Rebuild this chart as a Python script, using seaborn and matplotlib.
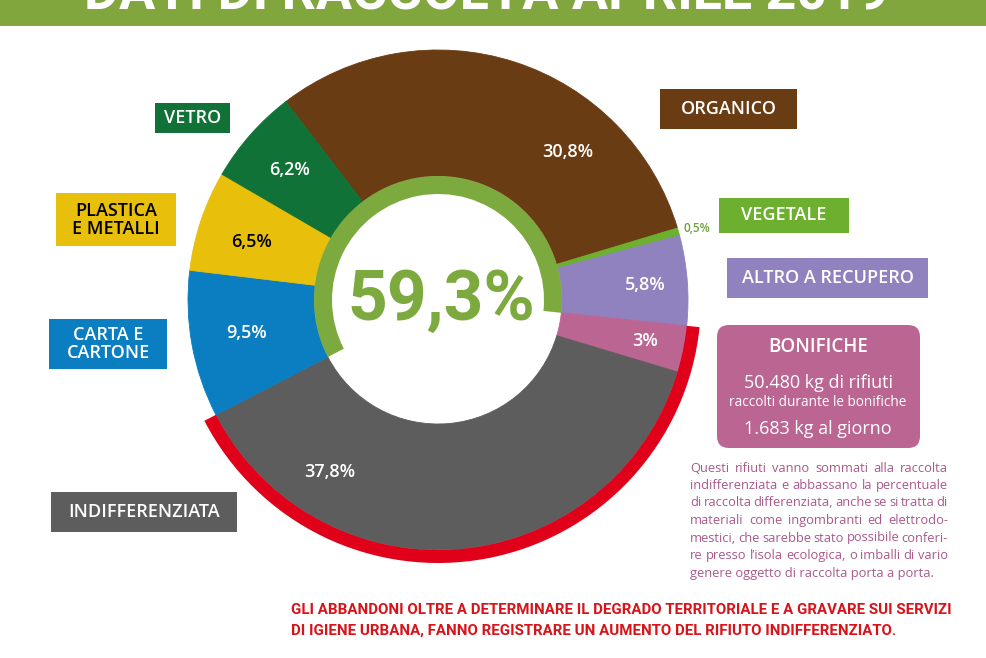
import matplotlib
matplotlib.use("Agg")
import matplotlib.pyplot as plt
from matplotlib.patches import Rectangle, FancyBboxPatch
import seaborn as sns

# ---------------- data ----------------
categories = ["ORGANICO", "VEGETALE", "ALTRO A RECUPERO", "BONIFICHE",
              "INDIFFERENZIATA", "CARTA E\nCARTONE", "PLASTICA\nE METALLI", "VETRO"]
values = [30.8, 0.5, 5.8, 3.0, 37.8, 9.5, 6.5, 6.2]
value_labels = ["30,8%", "0,5%", "5,8%", "3%", "37,8%", "9,5%", "6,5%", "6,2%"]
is_differenziata = [True, True, True, False, False, True, True, True]
center_label = "59,3%"
title = "DATI DI RACCOLTA APRILE 2019"
bonifiche_lines = ["BONIFICHE", "50.480 kg di rifiuti",
                   "raccolti durante le bonifiche", "1.683 kg al giorno"]
note_lines = [
    "Questi rifiuti vanno sommati alla raccolta",
    "indifferenziata e abbassano la percentuale",
    "di raccolta differenziata, anche se si tratta di",
    "materiali come ingombranti ed elettrodo-",
    "mestici, che sarebbe stato possibile conferi-",
    "re presso l\u2019isola ecologica, o imballi di vario",
    "genere oggetto di raccolta porta a porta.",
]
footer_lines = [
    "GLI ABBANDONI OLTRE A DETERMINARE IL DEGRADO TERRITORIALE E A GRAVARE SUI SERVIZI",
    "DI IGIENE URBANA, FANNO REGISTRARE UN AUMENTO DEL RIFIUTO INDIFFERENZIATO.",
]

# ---------------- style ----------------
sns.set_theme(style="white")
plt.rcParams["font.family"] = ["Open Sans", "DejaVu Sans"]
CONDENSED = ["Roboto", "DejaVu Sans"]

slice_colors = sns.color_palette(["#6A3C13", "#6DB02F", "#8F82BE", "#BB6592",
                                  "#5E5D5D", "#0B7EC2", "#E8BF0B", "#107236"])
label_text_colors = ["white", "#6DA13A", "white", "white", "white", "white", "black", "white"]
box_text_colors = ["white", "white", "white", "white", "white", "white", "black", "white"]
RED = "#E1001A"
RING_GREEN = "#7DAA3F"
TITLE_GREEN = "#82A63E"
NOTE_COLOR = "#A9598C"
FOOTER_RED = "#D7141A"

W, H = 986, 658


def Y(py):
    return H - py


# layout (pixel coordinates, top-left origin)
CX, CY = 438, 300
R_OUT, R_IN = 250, 124
RING_IN = 106
RED_OUT, RED_W = 263, 13
START = 127.5

label_pos = [(568, 152), (697, 229), (645, 285), (645, 341),
             (330, 472), (247, 333), (252, 242), (290, 170)]
label_size = [13, 8.5, 13, 13, 13, 13, 13, 13]
box_rect = {  # x0, y0, x1, y1
    "ORGANICO": (660, 89, 797, 129),
    "VEGETALE": (719, 198, 849, 233),
    "ALTRO A RECUPERO": (727, 258, 928, 298),
    "INDIFFERENZIATA": (51, 492, 237, 532),
    "CARTA E\nCARTONE": (49, 319, 167, 369),
    "PLASTICA\nE METALLI": (56, 193, 176, 246),
    "VETRO": (155, 103, 230, 133),
}

fig = plt.figure(figsize=(W / 100, H / 100), dpi=100)
ax = fig.add_axes([0, 0, 1, 1])
renderer = fig.canvas.get_renderer()


def fit_width(t, target):
    """scale a text's font size so that its rendered width equals target px"""
    wdt = t.get_window_extent(renderer).width
    t.set_fontsize(t.get_fontsize() * target / wdt)


# main donut
wedges, _ = ax.pie(values, colors=slice_colors, startangle=START, counterclock=False,
                   radius=R_OUT, center=(CX, Y(CY)),
                   wedgeprops=dict(width=R_OUT - R_IN), frame=True)
for w in wedges:
    w.set_edgecolor(w.get_facecolor())
    w.set_linewidth(0.6)

# outer red arc (non differentiated) and inner green arc (differentiated)
total = sum(values)
first_nd = is_differenziata.index(False)
ring_start = START - 360 * sum(values[:first_nd]) / total
undiff_total = sum(v for v, d in zip(values, is_differenziata) if not d)
diff_total = sum(v for v, d in zip(values, is_differenziata) if d)
ax.pie([undiff_total, diff_total], colors=[RED, "none"], startangle=ring_start,
       counterclock=False, radius=RED_OUT, center=(CX, Y(CY)),
       wedgeprops=dict(width=RED_W, linewidth=0), frame=True)
ax.pie([undiff_total, diff_total], colors=["none", RING_GREEN], startangle=ring_start,
       counterclock=False, radius=R_IN, center=(CX, Y(CY)),
       wedgeprops=dict(width=R_IN - RING_IN, linewidth=0), frame=True)

ax.set_xlim(0, W)
ax.set_ylim(0, H)
ax.set_aspect("equal")
ax.set_axis_off()

# title band (the title runs off the top edge, as in the reference)
ax.add_patch(Rectangle((0, Y(26)), W, 26, fc=TITLE_GREEN, ec="none", zorder=0))
tt = ax.text(487, Y(9), title, ha="center", va="baseline", color="white", fontsize=38,
             fontweight="bold", family=CONDENSED)
fit_width(tt, 807)

# percentage labels
for lab, (px, py), fs, col in zip(value_labels, label_pos, label_size, label_text_colors):
    ax.text(px, Y(py), lab, ha="center", va="center", color=col, fontsize=fs,
            fontweight="semibold")

# category boxes
for cat, col, tcol in zip(categories, slice_colors, box_text_colors):
    if cat not in box_rect:
        continue
    x0, y0, x1, y1 = box_rect[cat]
    ax.add_patch(Rectangle((x0, Y(y1)), x1 - x0, y1 - y0, fc=col, ec="none"))
    ax.text((x0 + x1) / 2, Y((y0 + y1) / 2), cat, ha="center", va="center",
            color=tcol, fontsize=13, fontweight="semibold", linespacing=1.0)

# center value
ct = ax.text(CX + 3, Y(CY), center_label, ha="center", va="center", color=RING_GREEN,
             fontsize=50, fontweight="bold", family=CONDENSED)
fit_width(ct, 188)

# bonifiche box
bon_col = slice_colors[categories.index("BONIFICHE")]
ax.add_patch(FancyBboxPatch((717, Y(448)), 203, 123,
                            boxstyle="round,pad=0,rounding_size=12",
                            fc=bon_col, ec="none"))
for txt, py, fs, fw in zip(bonifiche_lines, [347, 383, 402, 429],
                           [13.5, 13, 9.8, 13], ["semibold", "normal", "normal", "normal"]):
    ax.text(818, Y(py), txt, ha="center", va="center", color="white",
            fontsize=fs, fontweight=fw)

# justified note
NX0, NX1, NY0, NDY = 690, 948, 468, 17.5
NOTE_FS = 9.3
for i, line in enumerate(note_lines):
    yy = Y(NY0 + i * NDY)
    if i == len(note_lines) - 1:
        ax.text(NX0, yy, line, ha="left", va="center", color=NOTE_COLOR, fontsize=NOTE_FS)
        continue
    words = line.split(" ")
    ts = [ax.text(0, yy, wd, ha="left", va="center", color=NOTE_COLOR, fontsize=NOTE_FS)
          for wd in words]
    widths = [t.get_window_extent(renderer).width for t in ts]
    gap = (NX1 - NX0 - sum(widths)) / (len(words) - 1)
    x = NX0
    for t, wd in zip(ts, widths):
        t.set_x(x)
        x += wd + gap

# footer
fts = [ax.text(291, Y(610 + i * 21), line, ha="left", va="center", color=FOOTER_RED,
               fontsize=11, fontweight="bold", family=CONDENSED)
       for i, line in enumerate(footer_lines)]
w0 = fts[0].get_window_extent(renderer).width
for t in fts:
    t.set_fontsize(t.get_fontsize() * 657 / w0)

fig.savefig("out.png", dpi=100, facecolor="white")
